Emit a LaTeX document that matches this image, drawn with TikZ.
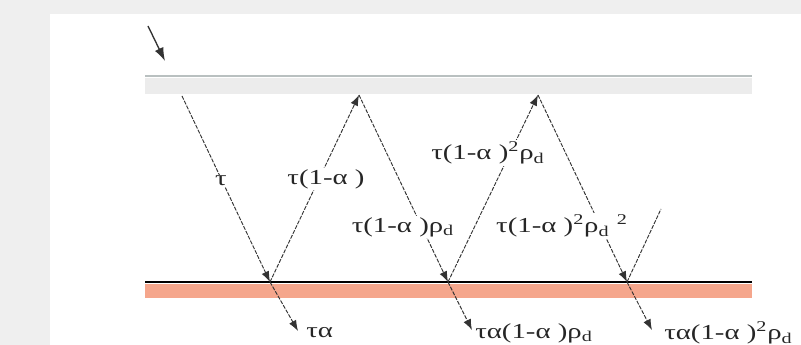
\documentclass[tikz,border=0pt]{standalone}
\usepackage{fontspec}
\setmainfont{Liberation Serif}
\usetikzlibrary{arrows.meta}
\definecolor{bgray}{HTML}{EFEFEF}
\definecolor{glassline}{HTML}{B9C0C0}
\definecolor{glassband}{HTML}{ECECEC}
\definecolor{salmon}{HTML}{F5A68C}
\definecolor{ray}{HTML}{333333}
\newcommand{\stretchtxt}[1]{\scalebox{1.35}[1]{#1}}
\begin{document}
\begin{tikzpicture}[x=0.75pt,y=-0.75pt,
  raypath/.style={draw=ray, line width=0.7pt, dash pattern=on 3pt off 1pt},
  tip/.style={-{Latex[length=8pt,width=6pt]}},
  lbl/.style={fill=white, inner sep=1pt, text=black!85, font=\fontsize{16}{18}\selectfont},
  outlbl/.style={inner sep=0pt, anchor=west, text=black!85, font=\fontsize{16}{18}\selectfont}]
\useasboundingbox (0,0) rectangle (801,345);
\fill[bgray] (0,0) rectangle (801,345);
\fill[white] (50,14) rectangle (801,345);
% glass cover
\fill[glassband] (145,78) rectangle (752,94);
\draw[glassline, line width=2.2pt] (145,76) -- (752,76);
% absorber
\fill[salmon] (145,284) rectangle (752,298);
\draw[black, line width=1.9pt] (145,282) -- (752,282);
% coordinates
\coordinate (in0) at (148,26);
\coordinate (in1) at (165,61);
\coordinate (t0) at (182,96);
\coordinate (a1) at (270,282);
\coordinate (g1) at (359,95);
\coordinate (a2) at (448,282);
\coordinate (g2) at (538,95);
\coordinate (a3) at (627,282);
\coordinate (e3) at (661,209);
\coordinate (o1) at (298,331);
\coordinate (o2) at (472,330);
\coordinate (o3) at (652,330);
% rays
\draw[ray, line width=1pt, -{Latex[length=10pt,width=7pt]}] (in0) -- (in1);
\draw[raypath, tip] (t0) -- (a1);
\draw[raypath, tip] (a1) -- (g1);
\draw[raypath, tip] (g1) -- (a2);
\draw[raypath, tip] (a2) -- (g2);
\draw[raypath, tip] (g2) -- (a3);
\draw[raypath] (a3) -- (e3);
\draw[raypath, tip] (a1) -- (o1);
\draw[raypath, tip] (a2) -- (o2);
\draw[raypath, tip] (a3) -- (o3);
% labels
\node[lbl] (l1) at (221,181) {\stretchtxt{τ}};
\node[lbl] (l2) at (326,179) {\stretchtxt{τ(1-α )}};
\node[lbl] (l3) at (403,227) {\stretchtxt{τ(1-α )ρ\textsubscript{d}}};
\node[lbl] (l4) at (488,153) {\stretchtxt{τ(1-α )\textsuperscript{2}ρ\textsubscript{d}}};
\node[lbl] (l5) at (562,226) {\stretchtxt{τ(1-α )\textsuperscript{2}ρ\textsubscript{d} \textsuperscript{2}}};
\node[outlbl] (l6) at (306,333) {\stretchtxt{τα}};
\node[outlbl] (l7) at (475,333) {\stretchtxt{τα(1-α )ρ\textsubscript{d}}};
\node[outlbl] (l8) at (664,333) {\stretchtxt{τα(1-α )\textsuperscript{2}ρ\textsubscript{d}}};
\end{tikzpicture}
\end{document}
